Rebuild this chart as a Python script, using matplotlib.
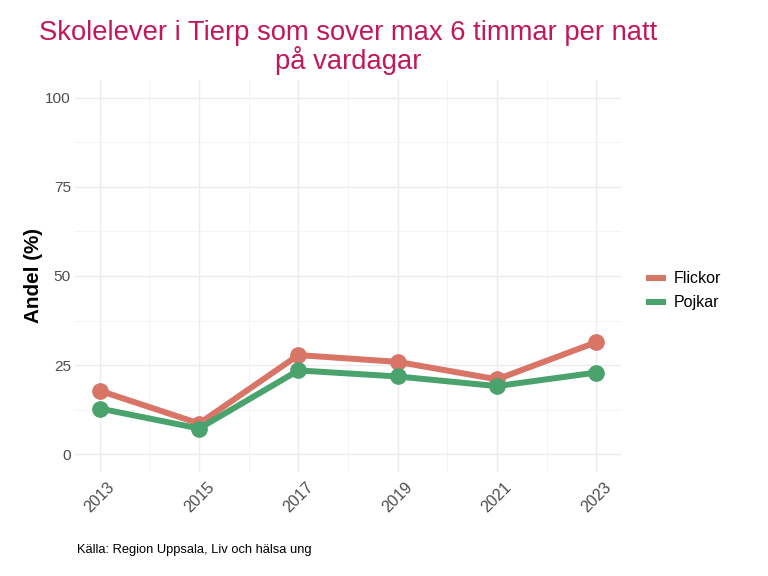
import matplotlib
matplotlib.use("Agg")
import matplotlib.pyplot as plt
from matplotlib.ticker import MultipleLocator
from matplotlib.lines import Line2D

plt.rcParams['font.family'] = ['Liberation Sans', 'DejaVu Sans']

# data
years = [2013, 2015, 2017, 2019, 2021, 2023]
flickor = [17.8, 8.6, 27.8, 25.9, 21.0, 31.4]
pojkar = [12.8, 7.2, 23.5, 21.8, 19.1, 22.9]
groups = ["Flickor", "Pojkar"]
colors = ["#D87566", "#4AA26D"]

fig = plt.figure(figsize=(8, 6), dpi=96)
ax = fig.add_axes([0.0977, 0.1806, 0.7109, 0.6805])

for vals, name, col in zip([flickor, pojkar], groups, colors):
    ax.plot(years, vals, color=col, lw=4.5, marker="o", ms=11.5,
            solid_capstyle="butt", label=name, zorder=3)

ax.set_xlim(2012.5, 2023.5)
ax.set_ylim(-5, 105)
ax.set_xticks(years)
ax.set_xticklabels([str(y) for y in years], rotation=45, ha="center", va="top")
ax.xaxis.set_minor_locator(MultipleLocator(1))
ax.set_yticks([0, 25, 50, 75, 100])
ax.yaxis.set_minor_locator(MultipleLocator(12.5))

ax.grid(which="major", color="#EBEBEB", lw=1.0)
ax.grid(which="minor", color="#F2F2F2", lw=0.6)
ax.set_axisbelow(True)
for s in ax.spines.values():
    s.set_visible(False)
ax.tick_params(which="both", length=0)
ax.tick_params(axis="y", labelsize=11.5, colors="#4D4D4D", pad=3)
ax.tick_params(axis="x", labelsize=12, colors="#4D4D4D", pad=6)

ax.set_ylabel("Andel (%)", fontsize=15.5, fontweight="bold", labelpad=2)

fig.suptitle("Skolelever i Tierp som sover max 6 timmar per natt\npå vardagar",
             x=0.453, y=0.966, fontsize=20.5, color="#C2185B", linespacing=1.0)

handles = [Line2D([], [], color=c, lw=4.5, solid_capstyle="butt") for c in colors]
fig.legend(handles, groups, loc="center left", bbox_to_anchor=(0.822, 0.495),
           frameon=False, fontsize=12, handlelength=1.25, handletextpad=0.5,
           labelspacing=0.55)

fig.text(0.1, 0.046, "Källa: Region Uppsala, Liv och hälsa ung", fontsize=9.7,
         color="black", ha="left", va="center")

fig.savefig("out.png", dpi=96)
